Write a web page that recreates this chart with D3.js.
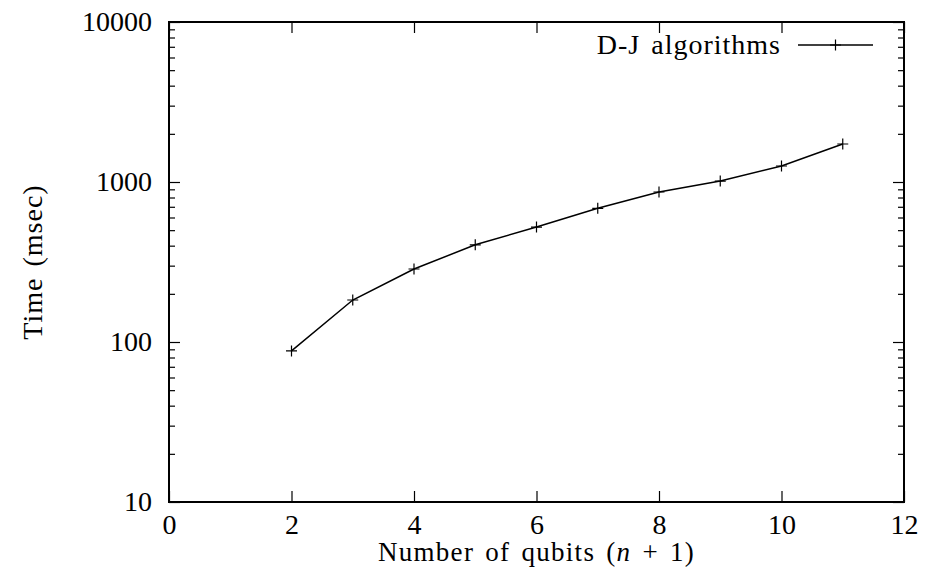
<!DOCTYPE html>
<html>
<head>
<meta charset="utf-8">
<script src="https://cdn.jsdelivr.net/npm/d3@7"></script>
<style>
  body { margin: 0; background: #fff; }
  svg text { font-family: "Liberation Serif", "Times New Roman", serif !important; fill: #000; }
</style>
</head>
<body>
<svg width="926" height="579"></svg>
<script>
// qubit counts and measured times
var qubits = [2, 3, 4, 5, 6, 7, 8, 9, 10, 11];
var timeMs = [88, 183, 286, 405, 523, 685, 866, 1014, 1259, 1728];
var xTicks = [0, 2, 4, 6, 8, 10, 12];
var yTicks = [10, 100, 1000, 10000];
var seriesName = "D-J algorithms";

var svg = d3.select("svg");
var pl = 169, pr = 904, pt = 22, pb = 502;
var serif = "'Liberation Serif', 'Times New Roman', serif";

var x = d3.scaleLinear().domain([0, 12]).range([pl, pr]);
var y = d3.scaleLog().domain([10, 10000]).range([pb, pt]);

var minor = [];
yTicks.slice(0, -1).forEach(function (d) {
  for (var k = 2; k < 10; k++) minor.push(d * k);
});

function clean(g) {
  g.select(".domain").remove();
  g.attr("font-family", null);
  g.selectAll("line").attr("stroke", "#000").attr("stroke-width", 1.2);
}

// bottom / top
svg.append("g")
    .attr("transform", "translate(0," + pb + ")")
    .call(d3.axisBottom(x).tickValues(xTicks).tickSize(-11).tickPadding(14))
    .call(clean)
    .selectAll("text").style("font-family", serif).attr("font-size", 28).attr("dy", "0.64em");
svg.append("g")
    .attr("transform", "translate(0," + pt + ")")
    .call(d3.axisTop(x).tickValues(xTicks).tickSize(-11).tickFormat(""))
    .call(clean);

// left / right majors
svg.append("g")
    .attr("transform", "translate(" + pl + ",0)")
    .call(d3.axisLeft(y).tickValues(yTicks).tickSize(-11).tickPadding(17).tickFormat(d3.format("d")))
    .call(clean)
    .selectAll("text").style("font-family", serif).attr("font-size", 28);
svg.append("g")
    .attr("transform", "translate(" + pr + ",0)")
    .call(d3.axisRight(y).tickValues(yTicks).tickSize(-11).tickFormat(""))
    .call(clean);

// minor ticks
svg.append("g")
    .attr("transform", "translate(" + pl + ",0)")
    .call(d3.axisLeft(y).tickValues(minor).tickSize(-6).tickFormat(""))
    .call(clean);
svg.append("g")
    .attr("transform", "translate(" + pr + ",0)")
    .call(d3.axisRight(y).tickValues(minor).tickSize(-6).tickFormat(""))
    .call(clean);

// frame
svg.append("rect")
    .attr("x", pl).attr("y", pt)
    .attr("width", pr - pl).attr("height", pb - pt)
    .attr("fill", "none").attr("stroke", "#000").attr("stroke-width", 2);

// axis titles
svg.append("text")
    .attr("x", (pl + pr) / 2).attr("y", 561)
    .attr("text-anchor", "middle").attr("font-size", 27)
    .style("font-family", serif)
    .attr("letter-spacing", 1.3).attr("word-spacing", 3)
    .html('Number of qubits (<tspan font-style="italic">n</tspan> + 1)');
svg.append("text")
    .attr("transform", "translate(42," + (pt + pb) / 2 + ") rotate(-90)")
    .attr("text-anchor", "middle").attr("font-size", 28)
    .style("font-family", serif)
    .attr("letter-spacing", 1).attr("word-spacing", 3)
    .text("Time (msec)");

// data line
var data = qubits.map(function (q, i) { return [q, timeMs[i]]; });
svg.append("path")
    .datum(data)
    .attr("fill", "none").attr("stroke", "#000").attr("stroke-width", 1.5)
    .attr("d", d3.line().x(function (d) { return x(d[0]); }).y(function (d) { return y(d[1]); }));

function plus(g, cx, cy) {
  g.append("path")
      .attr("d", "M" + (cx - 5.5) + "," + cy + "H" + (cx + 5.5) + "M" + cx + "," + (cy - 5.5) + "V" + (cy + 5.5))
      .attr("stroke", "#000").attr("stroke-width", 1.2).attr("fill", "none");
}
var marks = svg.append("g");
data.forEach(function (d) { plus(marks, x(d[0]), y(d[1])); });

// legend
svg.append("text")
    .attr("x", 781).attr("y", 54)
    .attr("text-anchor", "end").attr("font-size", 28)
    .style("font-family", serif)
    .attr("letter-spacing", 1).attr("word-spacing", 3)
    .text(seriesName);
svg.append("line")
    .attr("x1", 798).attr("x2", 873).attr("y1", 45).attr("y2", 45)
    .attr("stroke", "#000").attr("stroke-width", 1.5);
plus(svg, 835.5, 45);
</script>
</body>
</html>
